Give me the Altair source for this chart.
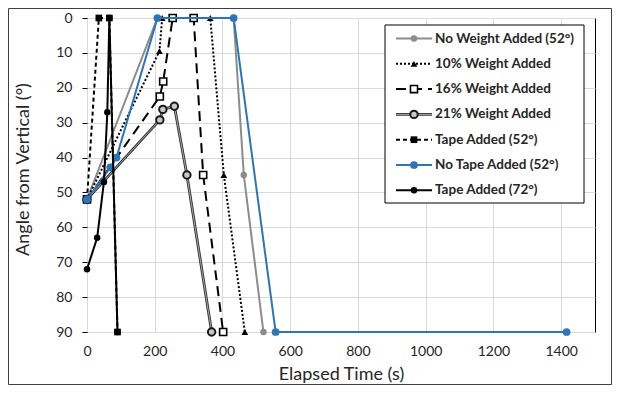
import altair as alt
import pandas as pd

# ---------------- data ----------------
series_names = [
    "No Weight Added (52°)",
    "10% Weight Added",
    "16% Weight Added",
    "21% Weight Added",
    "Tape Added (52°)",
    "No Tape Added (52°)",
    "Tape Added (72°)",
]

no_weight_t = [0, 208, 433, 463, 521]
no_weight_a = [52, 0, 0, 45, 90]

w10_t = [0, 214, 222, 364, 404, 466]
w10_a = [52, 9.5, 0, 0, 45, 90]

w16_t = [0, 215, 225, 253, 315, 343, 402]
w16_a = [52, 22.5, 18.2, 0, 0, 45, 90]

w21_t = [0, 215, 224, 258, 295, 368]
w21_a = [52, 29.2, 26.2, 25.3, 45, 90]

tape52_t = [0, 35, 66, 90]
tape52_a = [52, 0, 0, 90]

notape_t = [0, 69, 87, 208, 433, 557, 1416]
notape_a = [52, 42.8, 40, 0, 0, 90, 90]

tape72_t = [0, 30, 50, 60, 66, 90]
tape72_a = [72, 63, 47, 27, 0, 90]

x_ticks = [0, 200, 400, 600, 800, 1000, 1200, 1400]
y_ticks = [0, 10, 20, 30, 40, 50, 60, 70, 80, 90]

all_t = [no_weight_t, w10_t, w16_t, w21_t, tape52_t, notape_t, tape72_t]
all_a = [no_weight_a, w10_a, w16_a, w21_a, tape52_a, notape_a, tape72_a]

rows = []
for name, ts, angs in zip(series_names, all_t, all_a):
    for j, (t, a) in enumerate(zip(ts, angs)):
        rows.append({"series": name, "t": t, "angle": a, "idx": j})
df = pd.DataFrame(rows)

# ---------------- styles ----------------
GRAY = "#8c8c8c"
BLUE = "#2e75b6"
TXT = "#262626"
FONT = "Lato"

styles = [
    dict(lines=[dict(color=GRAY, strokeWidth=2)],
         pt=dict(shape="circle", fill=GRAY, stroke=GRAY, strokeWidth=0, size=42)),
    dict(lines=[dict(color="black", strokeWidth=2, strokeDash=[2, 2])],
         pt=dict(shape="triangle-up", fill="black", stroke="black", strokeWidth=0, size=45)),
    dict(lines=[dict(color="black", strokeWidth=2, strokeDash=[10, 6])],
         pt=dict(shape="square", fill="white", stroke="black", strokeWidth=1.6, size=50)),
    dict(lines=[dict(color="#333333", strokeWidth=2.8), dict(color="#a6a6a6", strokeWidth=1)],
         pt=dict(shape="circle", fill="#c8c8c8", stroke="#1a1a1a", strokeWidth=2, size=55)),
    dict(lines=[dict(color="black", strokeWidth=2, strokeDash=[4, 3])],
         pt=dict(shape="square", fill="black", stroke="black", strokeWidth=0, size=45)),
    dict(lines=[dict(color=BLUE, strokeWidth=2)],
         pt=dict(shape="circle", fill=BLUE, stroke=BLUE, strokeWidth=0, size=60)),
    dict(lines=[dict(color="black", strokeWidth=2)],
         pt=dict(shape="circle", fill="black", stroke="black", strokeWidth=0, size=42)),
]

x_enc = alt.X(
    "t:Q",
    scale=alt.Scale(domain=[0, 1500], nice=False, zero=False),
    axis=alt.Axis(
        values=x_ticks, format="d", title="Elapsed Time (s)", grid=True, gridColor="#d9d9d9",
        domain=False, ticks=False, labelPadding=12, labelFontSize=14, labelFont=FONT,
        labelColor=TXT, titleFont=FONT, titleFontSize=18, titleFontWeight="normal",
        titleColor=TXT, titleY=42, titleBaseline="middle", labelFlush=False,
    ),
)
y_enc = alt.Y(
    "angle:Q",
    scale=alt.Scale(domain=[0, 90], reverse=True, nice=False, zero=False),
    axis=alt.Axis(
        values=y_ticks, title="Angle from Vertical (°)", grid=True, gridColor="#d9d9d9",
        domain=False, ticks=True, tickSize=5, tickColor="black", labelPadding=10,
        labelFontSize=14, labelFont=FONT, labelColor=TXT, titleFont=FONT,
        titleFontSize=18, titleFontWeight="normal", titleColor=TXT,
        titleX=-64, titleY=151, titleAngle=270, titleBaseline="middle",
        titleAlign="center", labelFlush=False,
    ),
)

layers = []
for name, st in zip(series_names, styles):
    base = alt.Chart(df).transform_filter(alt.datum.series == name)
    for ln in st["lines"]:
        kw = dict(color=ln["color"], strokeWidth=ln["strokeWidth"])
        if "strokeDash" in ln:
            kw["strokeDash"] = ln["strokeDash"]
        layers.append(base.mark_line(**kw).encode(x=x_enc, y=y_enc, order="idx:Q"))
    p = st["pt"]
    layers.append(
        base.mark_point(shape=p["shape"], filled=True, fill=p["fill"], stroke=p["stroke"],
                        strokeWidth=p["strokeWidth"], size=p["size"], opacity=1,
                        fillOpacity=1).encode(x=x_enc, y=y_enc)
    )

# ---------------- manual legend ----------------
one = pd.DataFrame({"k": [0]})
layers.append(
    alt.Chart(one).mark_rect(fill="white", stroke="black", strokeWidth=1).encode(
        x=alt.value(298), x2=alt.value(497), y=alt.value(7), y2=alt.value(185)
    )
)
for i, (name, st) in enumerate(zip(series_names, styles)):
    yy = 20.5 + 25.3 * i
    for ln in st["lines"]:
        kw = dict(color=ln["color"], strokeWidth=ln["strokeWidth"])
        if "strokeDash" in ln:
            kw["strokeDash"] = ln["strokeDash"]
        layers.append(alt.Chart(one).mark_rule(**kw).encode(
            x=alt.value(309), x2=alt.value(345), y=alt.value(yy)))
    p = st["pt"]
    layers.append(alt.Chart(one).mark_point(
        shape=p["shape"], filled=True, fill=p["fill"], stroke=p["stroke"],
        strokeWidth=p["strokeWidth"], size=p["size"], opacity=1, fillOpacity=1
    ).encode(x=alt.value(327), y=alt.value(yy)))
    layers.append(alt.Chart(one).mark_text(
        align="left", baseline="middle", font=FONT, fontSize=13.5, fontWeight="bold", color=TXT
    ).encode(x=alt.value(348), y=alt.value(yy), text=alt.value(name)))

# outer chart border
layers.append(
    alt.Chart(one).mark_rect(fill="white", fillOpacity=0, stroke="#404040", strokeWidth=1).encode(
        x=alt.value(-78.5), x2=alt.value(524.5), y=alt.value(-9.5), y2=alt.value(366.5)
    )
)

chart = (
    alt.layer(*layers)
    .properties(
        width=508, height=314,
        autosize=alt.AutoSizeParams(type="none"),
        padding={"left": 79, "top": 10, "right": 17, "bottom": 53},
        background="white",
    )
    .configure_view(stroke="black", strokeWidth=1)
)

chart.save("out.html", embed_options={"renderer": "svg", "actions": False})
